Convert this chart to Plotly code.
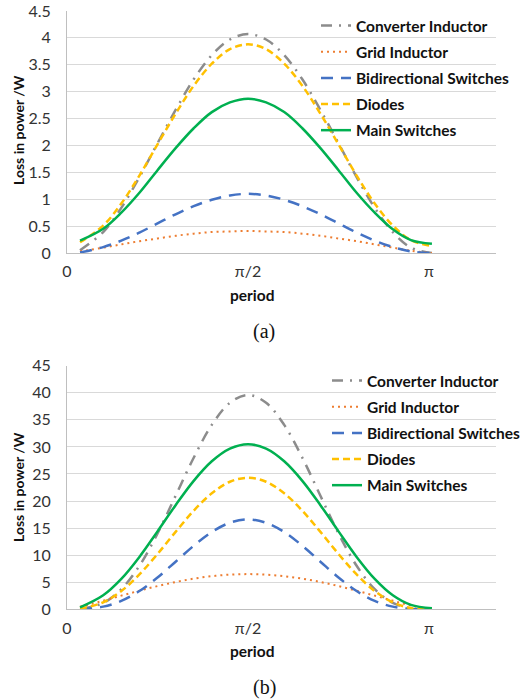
import plotly.graph_objects as go

# x positions in units of pi
x_period = [0.036, 0.1, 0.15, 0.2, 0.25, 0.3, 0.35, 0.4, 0.45, 0.5,
            0.55, 0.6, 0.65, 0.7, 0.75, 0.8, 0.85, 0.9, 0.95, 1.008]

series_names = ["Converter Inductor", "Grid Inductor", "Bidirectional Switches", "Diodes", "Main Switches"]

# (a)
conv_a = [0.05, 0.39, 0.84, 1.41, 2.04, 2.66, 3.23, 3.68, 3.97, 4.07,
          3.97, 3.68, 3.23, 2.66, 2.04, 1.41, 0.84, 0.39, 0.10, 0.00]
grid_a = [0.03, 0.10, 0.16, 0.22, 0.27, 0.32, 0.36, 0.39, 0.40, 0.41,
          0.40, 0.39, 0.36, 0.32, 0.27, 0.22, 0.16, 0.10, 0.04, 0.00]
bidir_a = [0.01, 0.11, 0.23, 0.38, 0.55, 0.72, 0.87, 0.99, 1.07, 1.10,
           1.07, 0.99, 0.87, 0.72, 0.55, 0.38, 0.23, 0.11, 0.03, 0.00]
diodes_a = [0.20, 0.51, 0.92, 1.44, 2.02, 2.59, 3.11, 3.52, 3.79, 3.88,
            3.79, 3.52, 3.11, 2.59, 2.02, 1.44, 0.92, 0.51, 0.24, 0.13]
main_a = [0.23, 0.45, 0.75, 1.12, 1.54, 1.95, 2.32, 2.62, 2.80, 2.87,
          2.80, 2.62, 2.32, 1.95, 1.54, 1.12, 0.75, 0.44, 0.24, 0.17]

# (b)
conv_b = [0.06, 1.17, 3.71, 8.04, 14.0, 20.97, 28.0, 34.06, 38.15, 39.6,
          38.15, 34.06, 28.0, 20.97, 14.0, 8.04, 3.71, 1.17, 0.15, 0.00]
grid_b = [0.47, 1.59, 2.52, 3.43, 4.29, 5.04, 5.66, 6.12, 6.40, 6.50,
          6.40, 6.12, 5.66, 5.04, 4.29, 3.43, 2.52, 1.59, 0.70, 0.08]
bidir_b = [0.02, 0.49, 1.55, 3.37, 5.87, 8.79, 11.74, 14.28, 15.99, 16.6,
           15.99, 14.28, 11.74, 8.79, 5.87, 3.37, 1.55, 0.49, 0.06, 0.00]
diodes_b = [0.10, 1.29, 3.37, 6.44, 10.22, 14.30, 18.21, 21.43, 23.56, 24.3,
            23.56, 21.43, 18.21, 14.30, 10.22, 6.44, 3.37, 1.29, 0.24, 0.05]
main_b = [0.35, 2.58, 5.61, 9.68, 14.39, 19.24, 23.73, 27.34, 29.68, 30.5,
          29.68, 27.34, 23.73, 19.24, 14.39, 9.68, 5.61, 2.58, 0.81, 0.20]

yticks_a = [0, 0.5, 1, 1.5, 2, 2.5, 3, 3.5, 4, 4.5]
yticks_b = [0, 5, 10, 15, 20, 25, 30, 35, 40, 45]
xtick_vals = [0, 0.5, 1]
xtick_text = ["0", "π/2", "π"]

styles = [
    dict(color="#8C8C8C", width=2.5, dash="11px,7px,2px,7px"),
    dict(color="#ED7D31", width=2, dash="2px,4px"),
    dict(color="#4472C4", width=2.5, dash="12px,8px"),
    dict(color="#FFC000", width=2.5, dash="7px,4px"),
    dict(color="#00B050", width=2.5),
]

fig = go.Figure()
for i, (name, ys) in enumerate(zip(series_names, [conv_a, grid_a, bidir_a, diodes_a, main_a])):
    fig.add_trace(go.Scatter(x=x_period, y=ys, name=name, mode="lines",
                             line=dict(shape="spline", **styles[i]),
                             xaxis="x", yaxis="y", legend="legend", legendgroup="a%d" % i))
for i, (name, ys) in enumerate(zip(series_names, [conv_b, grid_b, bidir_b, diodes_b, main_b])):
    fig.add_trace(go.Scatter(x=x_period, y=ys, name=name, mode="lines",
                             line=dict(shape="spline", **styles[i]),
                             xaxis="x2", yaxis="y2", legend="legend2", legendgroup="b%d" % i))

W, H = 521, 700
tickfont = dict(family="Lato, Open Sans, sans-serif", size=16, color="#333333")
grid_col = "#D9D9D9"
axis_col = "#BFBFBF"

def xaxis(anchor):
    return dict(domain=[67 / W, 496 / W], range=[0, 1.185], anchor=anchor,
                tickvals=xtick_vals, ticktext=xtick_text, showgrid=False,
                showline=True, linecolor=axis_col, linewidth=1, zeroline=False,
                ticks="", tickfont=tickfont, ticklabelstandoff=4, fixedrange=True,
                automargin=False)

def yaxis(anchor, dom, rng, tv):
    return dict(domain=dom, range=rng, anchor=anchor, tickvals=tv,
                showgrid=True, gridcolor=grid_col, gridwidth=1,
                showline=True, linecolor=axis_col, linewidth=1, zeroline=False,
                ticks="", tickfont=tickfont, ticklabelstandoff=12, automargin=False)

legfont = dict(family="Lato, Open Sans, sans-serif", size=15.5, color="#111111", weight="bold")

fig.update_layout(
    width=W, height=H,
    margin=dict(l=0, r=0, t=0, b=0, autoexpand=False),
    paper_bgcolor="white", plot_bgcolor="white",
    xaxis=xaxis("y"),
    yaxis=yaxis("x", [(H - 253) / H, (H - 11) / H], [0, 4.5], yticks_a),
    xaxis2=xaxis("y2"),
    yaxis2=yaxis("x2", [(H - 609.3) / H, (H - 365.7) / H], [0, 45], yticks_b),
    legend=dict(x=316 / W, y=(H - 9) / H, xanchor="left", yanchor="top",
                font=legfont, bgcolor="rgba(0,0,0,0)", traceorder="grouped",
                tracegroupgap=3, itemwidth=30),
    legend2=dict(x=327 / W, y=(H - 364) / H, xanchor="left", yanchor="top",
                 font=legfont, bgcolor="rgba(0,0,0,0)", traceorder="grouped",
                 tracegroupgap=3, itemwidth=30),
    showlegend=True,
)

title_font_y = dict(family="Lato, Open Sans, sans-serif", size=14, color="#111111", weight="bold")
title_font_x = dict(family="Lato, Open Sans, sans-serif", size=15.5, color="#111111", weight="bold")
cap_font = dict(family="Liberation Serif, Times New Roman, serif", size=20, color="#111111")
ann = [
    dict(text="Loss in power /W", x=18 / W, y=(H - 130) / H, textangle=-90, font=title_font_y),
    dict(text="period", x=252 / W, y=(H - 295) / H, font=title_font_x),
    dict(text="(a)", x=264 / W, y=(H - 331) / H, font=cap_font),
    dict(text="Loss in power /W", x=18 / W, y=(H - 487) / H, textangle=-90, font=title_font_y),
    dict(text="period", x=252 / W, y=(H - 651) / H, font=title_font_x),
    dict(text="(b)", x=264 / W, y=(H - 687) / H, font=cap_font),
]
for a in ann:
    fig.add_annotation(xref="paper", yref="paper", showarrow=False,
                       xanchor="center", yanchor="middle", **a)

fig.write_html("out.html", config={"displayModeBar": False},
               post_script="document.body.style.margin='0';document.body.style.overflow='hidden';")
